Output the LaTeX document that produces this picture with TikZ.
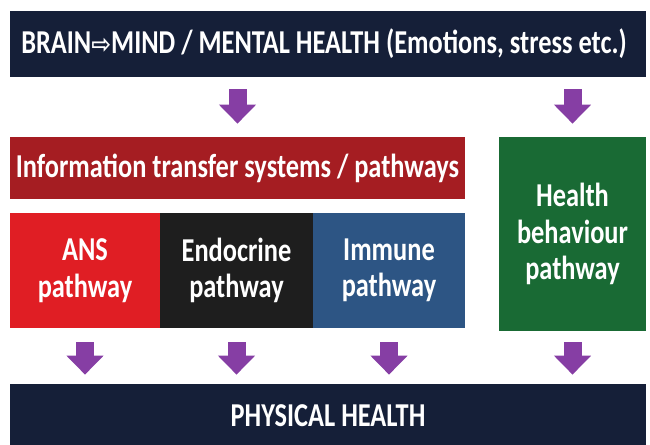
\documentclass[tikz,border=0pt]{standalone}
\usepackage{fontspec}
\setmainfont{Carlito}[FakeStretch=0.79]
\newfontfamily\arrowfont{DejaVu Sans}[FakeStretch=0.9]
\usepackage{xcolor}
\usepackage{tikz}
\usetikzlibrary{arrows.meta}
\definecolor{mindnavy}{RGB}{21,31,56}
\definecolor{linkred}{RGB}{165,29,34}
\definecolor{ansred}{RGB}{224,30,36}
\definecolor{endoblack}{RGB}{30,30,30}
\definecolor{immuneblue}{RGB}{45,85,132}
\definecolor{habitgreen}{RGB}{25,106,52}
\definecolor{flowpurple}{RGB}{134,62,164}

\begin{document}
\begin{tikzpicture}[every node/.style={font=\bfseries\fontsize{19}{20.8}\selectfont, text=white, align=center, inner sep=0pt},
    flow/.style={draw=flowpurple, line width=0.36cm, -{Triangle[width=0.72cm, length=0.38cm]}}]
            \useasboundingbox (0,0) rectangle (13,8.9);
            % top and bottom bars
            \node[fill=mindnavy, minimum width=12.72cm, minimum height=1.32cm] (mind) at (6.56,8.02) {
                BRAIN{\arrowfont\fontsize{15}{15}\selectfont ⇨}MIND / MENTAL HEALTH (Emotions, stress etc.)
            };
            \node[fill=mindnavy, minimum width=12.72cm, minimum height=1.26cm] (physical) at (6.56,0.59) {PHYSICAL HEALTH};
            % pathways
            \node[fill=linkred, minimum width=9.1cm, minimum height=1.24cm] (transfer) at (4.75,5.54) {Information transfer systems / pathways};
            \node[fill=ansred, minimum width=3cm, minimum height=2.3cm] (ans) at (1.7,3.49) {ANS\\pathway};
            \node[fill=endoblack, minimum width=3.06cm, minimum height=2.3cm] (endo) at (4.73,3.49) {Endocrine\\pathway};
            \node[fill=immuneblue, minimum width=3.04cm, minimum height=2.3cm] (immune) at (7.78,3.49) {Immune\\pathway};
            \node[fill=habitgreen, minimum width=2.94cm, minimum height=3.88cm] (behaviour) at (11.45,4.22) {Health\\behaviour\\pathway};
            % arrows
            \draw[flow, shorten <=0.24cm, shorten >=0.26cm] (mind.south -| transfer.north) -- (transfer.north);
            \draw[flow, shorten <=0.24cm, shorten >=0.26cm] (mind.south -| behaviour.north) -- (behaviour.north);
            \foreach \p in {ans, endo, immune}
                \draw[flow, shorten <=0.28cm, shorten >=0.18cm] (\p.south) -- (\p.south |- physical.north);
            \draw[flow, shorten <=0.22cm, shorten >=0.18cm] (behaviour.south) -- (behaviour.south |- physical.north);
        \end{tikzpicture}
\end{document}
